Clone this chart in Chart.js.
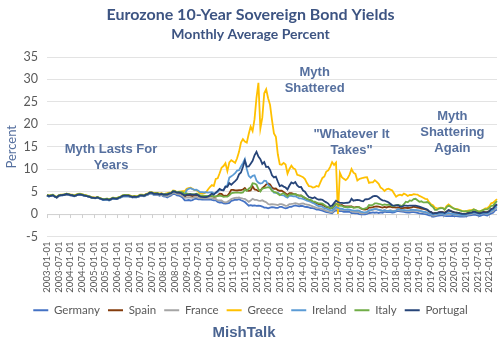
<!DOCTYPE html>
<html>
<head>
<meta charset="utf-8">
<script src="https://cdn.jsdelivr.net/npm/chart.js@4.4.0/dist/chart.umd.min.js"></script>
<style>
  html, body { margin: 0; padding: 0; background: #ffffff; }
  #wrap { width: 500px; height: 347px; }
</style>
</head>
<body>
<div id="wrap"><canvas id="chart" width="500" height="347"></canvas></div>
<script>
// monthly, 2003-01 .. 2022-05
const firstYear = 2003;
const lastYear = 2022;
const lastMonth = 5;

const months = [];
for (let y = firstYear; y <= lastYear; y++) {
  for (let m = 1; m <= 12; m++) {
    if (y === lastYear && m > lastMonth) break;
    months.push(y + "-" + String(m).padStart(2, "0") + "-01");
  }
}

const countries = ["Germany", "Spain", "France", "Greece", "Ireland", "Italy", "Portugal"];

const germany = [
  4.09, 3.89, 4.03, 4.14, 3.86, 3.66, 4.05, 4.15, 4.19, 4.26, 4.42, 4.30,
  4.17, 4.12, 3.94, 4.13, 4.29, 4.30, 4.24, 4.11, 4.03, 3.93, 3.83, 3.65,
  3.59, 3.54, 3.68, 3.49, 3.34, 3.19, 3.22, 3.24, 3.07, 3.26, 3.45, 3.36,
  3.34, 3.54, 3.69, 3.93, 3.99, 3.93, 3.95, 3.84, 3.71, 3.79, 3.71, 3.80,
  4.04, 4.04, 3.94, 4.15, 4.30, 4.59, 4.55, 4.28, 4.29, 4.32, 4.09, 4.25,
  3.95, 3.90, 3.69, 3.96, 4.13, 4.51, 4.46, 4.17, 4.12, 3.92, 3.61, 3.06,
  3.07, 3.13, 3.03, 3.12, 3.36, 3.45, 3.27, 3.26, 3.24, 3.23, 3.24, 3.22,
  3.26, 3.16, 3.08, 3.06, 2.70, 2.58, 2.63, 2.36, 2.33, 2.37, 2.50, 2.94,
  3.03, 3.19, 3.17, 3.33, 3.08, 2.92, 2.68, 2.27, 1.86, 2.00, 1.86, 1.93,
  1.84, 1.85, 1.84, 1.67, 1.44, 1.42, 1.26, 1.42, 1.54, 1.51, 1.37, 1.36,
  1.61, 1.59, 1.41, 1.26, 1.36, 1.62, 1.63, 1.80, 1.93, 1.81, 1.74, 1.85,
  1.76, 1.59, 1.57, 1.49, 1.34, 1.33, 1.19, 0.99, 0.98, 0.85, 0.77, 0.59,
  0.45, 0.35, 0.26, 0.16, 0.58, 0.84, 0.76, 0.64, 0.65, 0.52, 0.52, 0.57,
  0.50, 0.21, 0.21, 0.16, 0.14, 0.00, -0.09, -0.09, -0.05, 0.03, 0.24, 0.28,
  0.36, 0.30, 0.39, 0.24, 0.36, 0.29, 0.53, 0.44, 0.41, 0.41, 0.35, 0.37,
  0.58, 0.71, 0.58, 0.56, 0.50, 0.38, 0.35, 0.35, 0.44, 0.45, 0.35, 0.26,
  0.17, 0.12, 0.03, -0.03, -0.14, -0.30, -0.32, -0.59, -0.54, -0.43, -0.33, -0.29,
  -0.27, -0.39, -0.46, -0.44, -0.48, -0.43, -0.46, -0.47, -0.49, -0.57, -0.56, -0.57,
  -0.52, -0.37, -0.31, -0.25, -0.14, -0.20, -0.32, -0.45, -0.32, -0.15, -0.24, -0.33,
  -0.06, 0.14, 0.28, 0.81, 0.96
];

const spain = [
  4.23, 4.04, 4.11, 4.21, 3.92, 3.71, 4.08, 4.21, 4.24, 4.29, 4.44, 4.38,
  4.24, 4.19, 4.03, 4.17, 4.34, 4.35, 4.29, 4.16, 4.09, 3.97, 3.86, 3.66,
  3.64, 3.59, 3.74, 3.55, 3.38, 3.24, 3.27, 3.29, 3.12, 3.29, 3.48, 3.40,
  3.38, 3.59, 3.74, 3.99, 4.05, 4.03, 4.03, 3.90, 3.76, 3.84, 3.78, 3.85,
  4.12, 4.13, 4.04, 4.26, 4.40, 4.71, 4.68, 4.45, 4.44, 4.47, 4.27, 4.45,
  4.22, 4.23, 4.21, 4.40, 4.52, 4.95, 4.88, 4.65, 4.65, 4.52, 4.25, 3.88,
  4.19, 4.20, 4.10, 4.00, 4.09, 4.28, 4.09, 3.86, 3.78, 3.80, 3.82, 3.81,
  3.99, 3.98, 3.83, 3.91, 4.09, 4.56, 4.49, 4.04, 4.10, 4.06, 4.64, 5.38,
  5.38, 5.26, 5.25, 5.33, 5.32, 5.48, 5.82, 5.25, 5.20, 5.25, 6.19, 5.50,
  5.40, 5.11, 5.17, 5.79, 6.13, 6.59, 6.79, 6.58, 5.91, 5.65, 5.69, 5.34,
  5.19, 5.22, 4.92, 4.59, 4.25, 4.67, 4.67, 4.50, 4.42, 4.22, 4.12, 4.15,
  3.78, 3.56, 3.31, 3.13, 2.92, 2.72, 2.61, 2.36, 2.23, 2.14, 2.07, 1.79,
  1.54, 1.51, 1.23, 1.31, 1.78, 2.22, 2.10, 1.96, 2.03, 1.75, 1.69, 1.73,
  1.72, 1.73, 1.51, 1.55, 1.60, 1.52, 1.19, 1.03, 0.98, 1.08, 1.47, 1.45,
  1.55, 1.68, 1.73, 1.64, 1.53, 1.45, 1.60, 1.47, 1.59, 1.63, 1.49, 1.48,
  1.45, 1.49, 1.36, 1.26, 1.38, 1.39, 1.35, 1.39, 1.47, 1.63, 1.56, 1.44,
  1.38, 1.22, 1.15, 1.06, 0.93, 0.52, 0.43, 0.12, 0.21, 0.20, 0.35, 0.42,
  0.43, 0.28, 0.54, 0.84, 0.70, 0.52, 0.38, 0.34, 0.28, 0.16, 0.09, 0.04,
  0.06, 0.25, 0.32, 0.39, 0.52, 0.41, 0.29, 0.24, 0.36, 0.50, 0.43, 0.43,
  0.66, 1.12, 1.25, 1.77, 2.09
];

const france = [
  4.13, 3.94, 4.08, 4.18, 3.92, 3.71, 4.09, 4.19, 4.21, 4.28, 4.44, 4.34,
  4.23, 4.20, 4.00, 4.18, 4.34, 4.36, 4.29, 4.15, 4.07, 3.95, 3.84, 3.66,
  3.61, 3.58, 3.71, 3.53, 3.37, 3.23, 3.26, 3.29, 3.11, 3.30, 3.50, 3.40,
  3.37, 3.57, 3.73, 3.97, 4.03, 4.00, 4.01, 3.88, 3.75, 3.83, 3.76, 3.84,
  4.10, 4.11, 4.01, 4.22, 4.37, 4.66, 4.62, 4.38, 4.37, 4.40, 4.18, 4.34,
  4.11, 4.09, 3.96, 4.21, 4.38, 4.77, 4.72, 4.46, 4.43, 4.25, 3.99, 3.61,
  3.66, 3.70, 3.67, 3.63, 3.78, 3.80, 3.62, 3.54, 3.55, 3.52, 3.53, 3.52,
  3.56, 3.57, 3.46, 3.37, 3.05, 3.04, 3.06, 2.72, 2.63, 2.72, 3.00, 3.34,
  3.48, 3.62, 3.63, 3.73, 3.53, 3.42, 3.37, 3.07, 2.73, 3.04, 3.40, 3.17,
  3.18, 2.99, 2.94, 3.06, 2.84, 2.65, 2.24, 2.13, 2.21, 2.17, 2.09, 2.00,
  2.20, 2.23, 2.05, 1.83, 1.89, 2.23, 2.28, 2.34, 2.44, 2.33, 2.18, 2.34,
  2.36, 2.20, 2.12, 2.03, 1.89, 1.71, 1.56, 1.38, 1.34, 1.24, 1.10, 0.92,
  0.70, 0.64, 0.45, 0.38, 0.85, 1.13, 1.08, 0.98, 1.01, 0.88, 0.90, 0.97,
  0.88, 0.58, 0.55, 0.48, 0.52, 0.38, 0.18, 0.17, 0.20, 0.30, 0.68, 0.80,
  0.95, 1.10, 1.06, 0.94, 0.80, 0.66, 0.84, 0.70, 0.71, 0.85, 0.70, 0.70,
  0.81, 0.94, 0.81, 0.78, 0.79, 0.71, 0.69, 0.69, 0.77, 0.82, 0.75, 0.71,
  0.63, 0.55, 0.42, 0.35, 0.28, 0.02, -0.04, -0.33, -0.28, -0.13, -0.01, 0.03,
  -0.02, -0.15, -0.01, 0.01, 0.01, -0.02, -0.13, -0.16, -0.21, -0.30, -0.31, -0.33,
  -0.30, -0.11, -0.07, 0.04, 0.20, 0.14, -0.01, -0.07, 0.07, 0.19, 0.08, 0.02,
  0.31, 0.58, 0.70, 1.24, 1.43
];

// July 2015 has no reading and shows as zero
const greece = [
  4.29, 4.11, 4.19, 4.29, 4.01, 3.79, 4.17, 4.31, 4.35, 4.41, 4.57, 4.50,
  4.39, 4.35, 4.18, 4.33, 4.49, 4.52, 4.45, 4.30, 4.20, 4.08, 3.97, 3.78,
  3.70, 3.62, 3.75, 3.60, 3.47, 3.35, 3.38, 3.44, 3.26, 3.44, 3.67, 3.61,
  3.58, 3.76, 3.92, 4.19, 4.27, 4.27, 4.27, 4.12, 3.96, 4.05, 3.98, 4.06,
  4.33, 4.32, 4.24, 4.46, 4.59, 4.90, 4.90, 4.70, 4.72, 4.72, 4.54, 4.67,
  4.52, 4.57, 4.66, 4.79, 4.83, 5.24, 5.19, 4.93, 5.02, 5.06, 5.09, 5.09,
  5.63, 5.80, 5.87, 5.62, 5.35, 5.33, 4.95, 4.61, 4.54, 4.62, 4.85, 5.49,
  6.02, 6.46, 6.24, 7.83, 7.97, 9.10, 10.34, 10.70, 11.34, 9.57, 11.52, 12.01,
  11.73, 11.40, 12.44, 13.86, 15.94, 16.69, 16.15, 15.90, 17.84, 19.50, 18.50, 21.14,
  25.91, 29.24, 19.07, 21.48, 26.90, 27.82, 25.82, 24.34, 20.91, 17.96, 17.21, 13.33,
  11.10, 10.99, 11.41, 11.06, 9.01, 10.05, 10.77, 10.19, 9.98, 8.76, 8.62, 8.42,
  8.22, 7.78, 6.90, 6.23, 6.18, 5.90, 6.02, 6.25, 6.09, 7.10, 8.05, 8.36,
  9.48, 9.72, 10.52, 11.59, 10.95, 11.48, 0, 9.19, 8.23, 7.85, 7.57, 7.97,
  8.78, 10.04, 9.21, 8.94, 7.48, 7.82, 7.95, 8.09, 8.17, 8.21, 6.96, 7.07,
  7.07, 7.55, 7.18, 6.74, 5.90, 5.62, 5.14, 5.51, 5.64, 5.44, 5.24, 4.54,
  3.87, 4.18, 4.33, 4.15, 4.55, 4.37, 4.03, 4.25, 4.25, 4.44, 4.37, 4.35,
  4.05, 3.86, 3.62, 3.40, 3.35, 2.65, 2.16, 1.98, 1.45, 1.29, 1.34, 1.41,
  1.36, 1.09, 1.79, 2.14, 1.80, 1.43, 1.17, 1.14, 1.05, 0.91, 0.73, 0.62,
  0.63, 0.79, 0.87, 0.89, 1.06, 0.86, 0.67, 0.58, 0.79, 0.95, 1.29, 1.31,
  1.70, 2.39, 2.54, 2.92, 3.34
];

const ireland = [
  4.11, 3.92, 4.06, 4.16, 3.89, 3.68, 4.06, 4.17, 4.18, 4.25, 4.41, 4.31,
  4.19, 4.15, 3.98, 4.14, 4.30, 4.31, 4.26, 4.12, 4.03, 3.92, 3.82, 3.61,
  3.57, 3.51, 3.64, 3.46, 3.30, 3.14, 3.16, 3.21, 3.03, 3.24, 3.44, 3.34,
  3.32, 3.52, 3.68, 3.92, 3.98, 3.96, 3.98, 3.86, 3.72, 3.81, 3.74, 3.83,
  4.09, 4.09, 4.01, 4.22, 4.37, 4.66, 4.64, 4.42, 4.43, 4.46, 4.29, 4.48,
  4.27, 4.30, 4.32, 4.54, 4.63, 5.04, 5.01, 4.82, 4.92, 4.85, 4.57, 4.40,
  5.33, 5.62, 5.76, 5.55, 5.39, 5.45, 5.22, 4.88, 4.87, 4.81, 4.90, 4.79,
  4.84, 4.88, 4.61, 4.67, 4.90, 5.44, 5.33, 5.28, 6.17, 6.40, 8.12, 8.40,
  8.74, 9.10, 9.68, 9.79, 10.59, 11.36, 12.27, 10.05, 8.51, 8.09, 8.51, 8.64,
  7.47, 7.00, 6.82, 6.92, 7.45, 7.36, 6.52, 6.13, 5.38, 4.77, 4.72, 4.76,
  4.38, 4.24, 4.18, 3.87, 3.64, 4.10, 4.07, 3.96, 3.97, 3.73, 3.51, 3.50,
  3.37, 3.19, 3.00, 2.87, 2.71, 2.48, 2.29, 1.99, 1.79, 1.74, 1.63, 1.32,
  1.20, 1.06, 0.81, 0.80, 1.19, 1.59, 1.37, 1.21, 1.20, 1.06, 0.99, 1.05,
  1.01, 0.90, 0.83, 0.78, 0.84, 0.75, 0.48, 0.41, 0.39, 0.47, 0.87, 0.90,
  1.07, 1.11, 1.08, 0.96, 0.88, 0.73, 0.87, 0.70, 0.69, 0.69, 0.59, 0.61,
  0.80, 1.12, 1.01, 0.93, 0.89, 0.84, 0.82, 0.86, 0.96, 0.95, 0.90, 0.89,
  0.84, 0.66, 0.53, 0.46, 0.34, 0.11, 0.03, -0.12, -0.03, 0.01, 0.08, 0.09,
  0.06, -0.05, 0.14, 0.24, 0.17, 0.06, -0.04, -0.06, -0.10, -0.21, -0.23, -0.26,
  -0.20, 0.03, 0.12, 0.23, 0.31, 0.25, 0.08, -0.06, 0.08, 0.26, 0.18, 0.13,
  0.42, 0.75, 0.98, 1.48, 1.72
];

const italy = [
  4.30, 4.12, 4.19, 4.29, 4.01, 3.79, 4.16, 4.28, 4.31, 4.37, 4.53, 4.45,
  4.33, 4.29, 4.11, 4.26, 4.44, 4.47, 4.41, 4.26, 4.17, 4.07, 3.95, 3.73,
  3.68, 3.63, 3.80, 3.63, 3.46, 3.38, 3.40, 3.45, 3.27, 3.46, 3.67, 3.56,
  3.54, 3.75, 3.91, 4.18, 4.25, 4.23, 4.23, 4.07, 3.91, 3.99, 3.91, 4.03,
  4.25, 4.24, 4.15, 4.37, 4.50, 4.82, 4.83, 4.61, 4.63, 4.66, 4.47, 4.56,
  4.41, 4.41, 4.50, 4.64, 4.71, 5.13, 5.07, 4.83, 4.96, 4.95, 4.82, 4.52,
  4.58, 4.51, 4.47, 4.45, 4.39, 4.55, 4.39, 4.13, 4.10, 4.06, 4.06, 4.03,
  4.08, 4.03, 3.92, 3.96, 4.02, 4.13, 4.02, 3.83, 3.88, 3.87, 4.18, 4.61,
  4.75, 4.76, 4.79, 4.78, 4.75, 4.82, 5.44, 5.19, 5.66, 5.95, 6.85, 6.81,
  6.54, 5.56, 5.05, 5.68, 5.78, 5.90, 6.00, 5.82, 5.20, 4.96, 4.86, 4.54,
  4.21, 4.48, 4.65, 4.31, 3.96, 4.38, 4.40, 4.38, 4.46, 4.23, 4.13, 4.11,
  3.89, 3.65, 3.40, 3.22, 3.15, 2.85, 2.76, 2.58, 2.38, 2.40, 2.35, 2.01,
  1.72, 1.58, 1.29, 1.37, 1.83, 2.25, 2.07, 1.86, 1.84, 1.59, 1.56, 1.59,
  1.53, 1.62, 1.38, 1.46, 1.56, 1.50, 1.26, 1.12, 1.25, 1.41, 2.02, 1.93,
  2.03, 2.39, 2.40, 2.29, 2.19, 2.01, 2.14, 2.04, 2.10, 2.02, 1.78, 1.81,
  1.99, 2.04, 1.94, 1.76, 2.20, 2.76, 2.62, 3.03, 2.95, 3.35, 3.41, 3.08,
  2.74, 2.85, 2.59, 2.61, 2.68, 2.42, 1.91, 1.58, 0.94, 0.93, 1.22, 1.34,
  1.32, 0.97, 1.55, 1.84, 1.68, 1.40, 1.19, 1.05, 0.95, 0.75, 0.63, 0.58,
  0.64, 0.58, 0.67, 0.77, 1.01, 0.86, 0.68, 0.57, 0.72, 0.92, 1.04, 1.04,
  1.33, 1.80, 1.89, 2.43, 2.86
];

const portugal = [
  4.18, 4.00, 4.08, 4.20, 3.92, 3.71, 4.09, 4.22, 4.25, 4.30, 4.46, 4.37,
  4.25, 4.21, 4.03, 4.18, 4.35, 4.37, 4.30, 4.16, 4.07, 3.96, 3.85, 3.64,
  3.61, 3.55, 3.71, 3.53, 3.37, 3.23, 3.26, 3.30, 3.14, 3.34, 3.54, 3.45,
  3.42, 3.63, 3.80, 4.06, 4.12, 4.10, 4.10, 3.97, 3.81, 3.90, 3.83, 3.91,
  4.18, 4.18, 4.09, 4.32, 4.46, 4.77, 4.75, 4.52, 4.53, 4.53, 4.34, 4.51,
  4.32, 4.38, 4.36, 4.55, 4.66, 5.06, 5.00, 4.76, 4.80, 4.70, 4.40, 4.13,
  4.30, 4.32, 4.41, 4.30, 4.31, 4.41, 4.16, 3.89, 3.81, 3.77, 3.76, 3.92,
  4.18, 4.55, 4.31, 4.80, 5.17, 5.63, 5.35, 5.31, 6.09, 6.06, 6.90, 6.53,
  6.95, 7.34, 7.80, 8.86, 9.27, 10.48, 11.87, 10.57, 10.61, 11.23, 11.87, 13.09,
  13.85, 12.81, 12.23, 11.18, 11.58, 10.47, 10.55, 9.87, 8.62, 8.17, 8.34, 7.25,
  6.23, 6.40, 6.12, 5.91, 5.49, 6.35, 7.03, 6.82, 7.14, 6.37, 5.99, 6.02,
  5.24, 4.99, 4.31, 3.80, 3.66, 3.50, 3.75, 3.41, 3.21, 3.25, 3.18, 2.84,
  2.61, 2.34, 1.73, 1.88, 2.44, 2.97, 2.69, 2.49, 2.51, 2.42, 2.51, 2.52,
  2.66, 3.40, 2.98, 3.08, 3.14, 3.10, 2.94, 2.84, 3.28, 3.30, 3.40, 3.65,
  3.94, 4.04, 4.00, 3.69, 3.29, 3.06, 3.01, 2.81, 2.65, 2.31, 1.95, 1.87,
  1.95, 2.00, 1.70, 1.64, 1.90, 1.89, 1.82, 1.88, 1.86, 1.90, 1.86, 1.75,
  1.64, 1.51, 1.34, 1.17, 1.01, 0.63, 0.44, 0.14, 0.22, 0.21, 0.36, 0.43,
  0.40, 0.24, 0.53, 0.89, 0.70, 0.52, 0.37, 0.33, 0.26, 0.13, 0.06, 0.02,
  0.03, 0.18, 0.26, 0.34, 0.53, 0.42, 0.26, 0.18, 0.29, 0.42, 0.37, 0.38,
  0.61, 1.10, 1.23, 1.83, 2.23
];

const yMin = -5;
const yMax = 35;
const yStep = 5;

const seriesData = [germany, spain, france, greece, ireland, italy, portugal];
const colors = ["#4472C4", "#843C0C", "#A5A5A5", "#FFC000", "#5B9BD5", "#70AD47", "#264478"];

// text on the plot, placed by month index and value
const notes = [
  { lines: ["Myth Lasts For", "Years"], month: 33, value: 14.4 },
  { lines: ["Myth", "Shattered"], month: 138, value: 31.6 },
  { lines: ['"Whatever It', 'Takes"'], month: 157, value: 17.8 },
  { lines: ["Myth", "Shattering", "Again"], month: 209, value: 21.8 }
];

const datasets = countries.map(function (name, i) {
  return {
    label: name,
    data: seriesData[i],
    borderColor: colors[i],
    backgroundColor: colors[i],
    borderWidth: 1.8,
    pointRadius: 0,
    tension: 0,
    order: countries.length - i
  };
});

const extras = {
  id: "extras",
  beforeDatasetsDraw: function (chart) {
    const ctx = chart.ctx;
    const x = chart.scales.x;
    const y = chart.scales.y;
    const y0 = y.getPixelForValue(0);
    ctx.save();
    ctx.strokeStyle = "#d0d0d0";
    ctx.lineWidth = 1;
    ctx.beginPath();
    ctx.moveTo(chart.chartArea.left, y0 + 0.5);
    ctx.lineTo(chart.chartArea.right, y0 + 0.5);
    for (let i = 0; i < months.length; i += 6) {
      const px = Math.round(x.getPixelForValue(i)) + 0.5;
      ctx.moveTo(px, y0);
      ctx.lineTo(px, y0 + 4);
    }
    ctx.stroke();
    ctx.restore();
  },
  afterDatasetsDraw: function (chart) {
    const ctx = chart.ctx;
    const x = chart.scales.x;
    const y = chart.scales.y;
    ctx.save();
    ctx.fillStyle = "#56709f";
    ctx.font = "bold 13px 'Liberation Sans', Arial, sans-serif";
    ctx.textAlign = "center";
    ctx.textBaseline = "middle";
    notes.forEach(function (n) {
      const px = x.getPixelForValue(n.month);
      const py = y.getPixelForValue(n.value);
      n.lines.forEach(function (line, k) {
        ctx.fillText(line, px, py + k * 16);
      });
    });
    ctx.restore();
  },
  afterDraw: function (chart) {
    const ctx = chart.ctx;
    ctx.save();
    ctx.fillStyle = "#4a6491";
    ctx.font = "bold 15px 'Liberation Sans', Arial, sans-serif";
    ctx.textAlign = "center";
    ctx.textBaseline = "middle";
    ctx.fillText("MishTalk", 244, chart.height - 14);
    ctx.restore();
  }
};

const ctx = document.getElementById("chart").getContext("2d");
const myChart = new Chart(ctx, {
  type: "line",
  data: {
    labels: months,
    datasets: datasets
  },
  options: {
    responsive: false,
    animation: false,
    events: [],
    layout: {
      padding: { left: 4, right: 3, top: 0, bottom: 21 }
    },
    plugins: {
      title: {
        display: true,
        text: "Eurozone 10-Year Sovereign Bond Yields",
        color: "#3d5482",
        font: { family: "Lato", size: 16, weight: "bold" },
        padding: { top: 5, bottom: 0 }
      },
      subtitle: {
        display: true,
        text: "Monthly Average Percent",
        color: "#3d5482",
        font: { family: "Lato", size: 14, weight: "bold" },
        padding: { top: 2, bottom: 14 }
      },
      legend: {
        position: "bottom",
        labels: {
          color: "#595959",
          font: { family: "Lato", size: 11.5 },
          boxWidth: 15,
          boxHeight: 2,
          padding: 8,
          generateLabels: function (chart) {
            const items = Chart.defaults.plugins.legend.labels.generateLabels(chart);
            items.forEach(function (it) {
              it.lineWidth = 0;
              it.fillStyle = it.strokeStyle;
            });
            return items;
          },
          sort: function (a, b) {
            return a.datasetIndex - b.datasetIndex;
          }
        }
      },
      tooltip: { enabled: false }
    },
    scales: {
      x: {
        offset: false,
        grid: { display: false, drawTicks: false },
        border: { display: false },
        afterFit: function (scale) {
          scale.height = 60;
          scale.paddingLeft = 0;
          scale.paddingRight = 0;
        },
        ticks: {
          autoSkip: false,
          maxRotation: 90,
          minRotation: 90,
          color: "#595959",
          font: { family: "Lato", size: 9.5 },
          padding: 5,
          callback: function (value, index) {
            return index % 6 === 0 ? months[index] : null;
          }
        }
      },
      y: {
        min: yMin,
        max: yMax,
        afterFit: function (scale) {
          scale.width = 43;
        },
        grid: { color: "#e3e3e3", drawTicks: false },
        border: { display: false },
        ticks: {
          stepSize: yStep,
          autoSkip: false,
          color: "#595959",
          font: { family: "Lato", size: 12.5 },
          padding: 9
        },
        title: {
          display: true,
          text: "Percent",
          color: "#56709f",
          font: { family: "Lato", size: 13 },
          padding: { top: 0, bottom: 0 }
        }
      }
    }
  },
  plugins: [extras]
});
</script>
</body>
</html>
